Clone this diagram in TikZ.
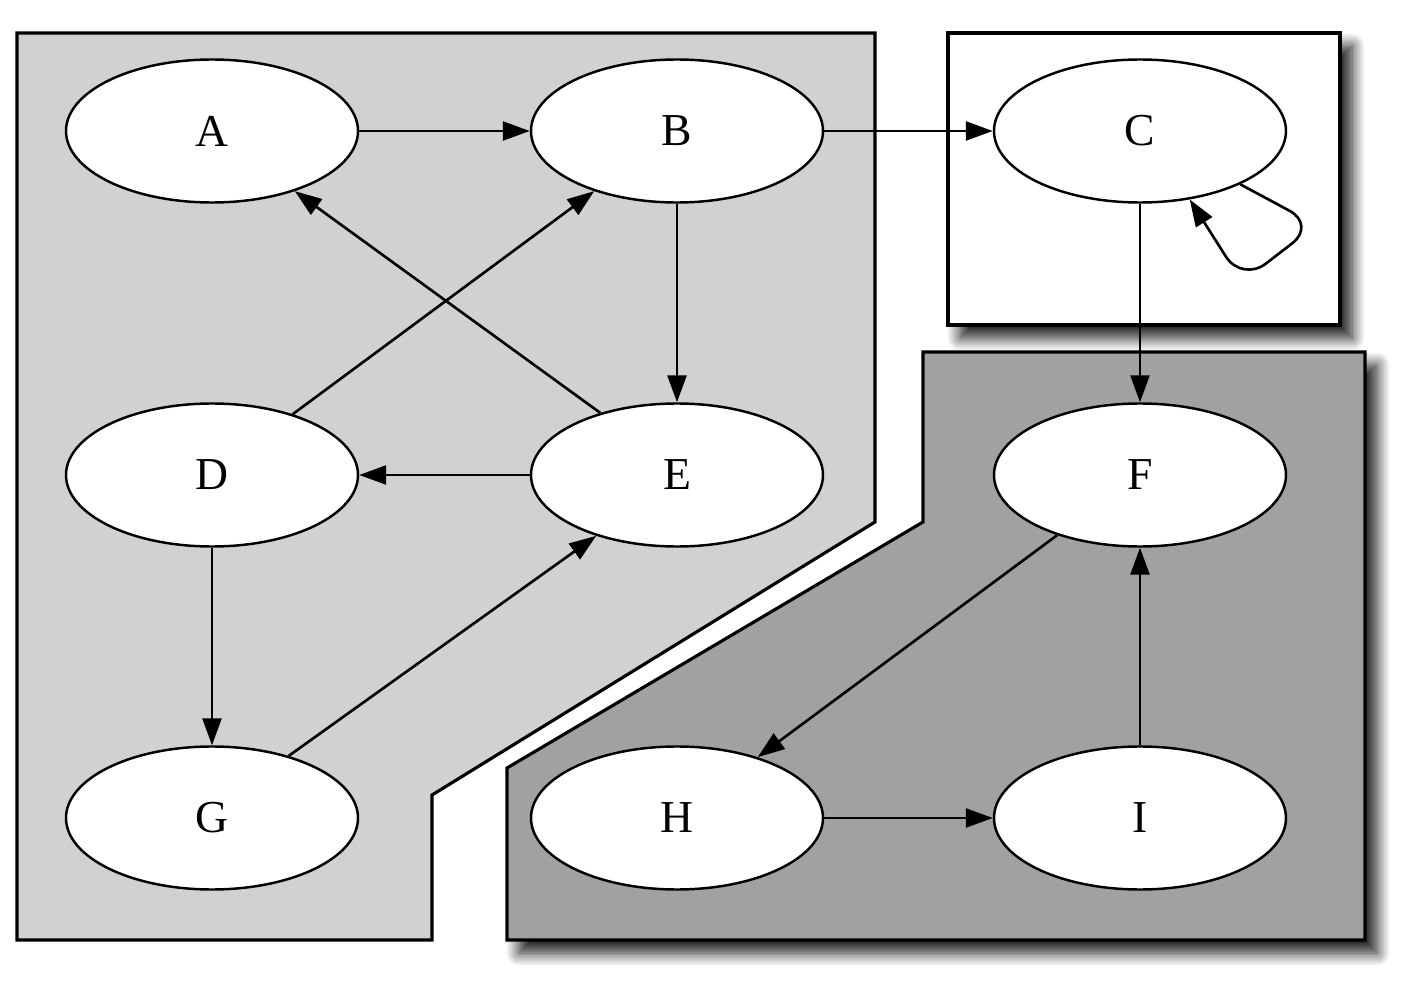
\documentclass[tikz,border=0pt]{standalone}
\usepackage{fontspec}
\setmainfont{Liberation Serif}
\usepackage{tikz}
\usetikzlibrary{shapes.geometric,arrows.meta,shadows.blur}

\tikzset{
  state/.style={ellipse,draw,line width=0.7pt,fill=white,minimum width=2.92cm,minimum height=1.43cm,inner sep=0pt,font=\fontsize{13}{15}\selectfont},
  trans/.style={line width=0.75pt,-{Triangle[length=0.27cm,width=0.19cm,fill=black]}},
  region/.style={draw,line width=0.9pt},
  boxshadow/.style={blur shadow={shadow xshift=0.12cm,shadow yshift=-0.13cm,shadow blur radius=0.13cm,shadow blur steps=12,shadow opacity=90}}
}

\begin{document}
\begin{tikzpicture}
\useasboundingbox (0,0) rectangle (14.13,-9.93);
% clusters
\draw[region,fill=black!18] (0.17,-0.33) -- (8.75,-0.33) -- (8.75,-5.22) -- (4.32,-7.95) -- (4.32,-9.40) -- (0.17,-9.40) -- cycle;
\draw[region,fill=white,boxshadow] (9.48,-0.33) rectangle (13.40,-3.25);
\draw[region,fill=black!37,boxshadow] (9.23,-3.52) -- (13.65,-3.52) -- (13.65,-9.40) -- (5.07,-9.40) -- (5.07,-7.68) -- (9.23,-5.22) -- cycle;
% states
\node[state] (A) at (2.12,-1.31) {A};
\node[state] (B) at (6.77,-1.31) {B};
\node[state] (C) at (11.40,-1.31) {C};
\node[state] (D) at (2.12,-4.75) {D};
\node[state] (E) at (6.77,-4.75) {E};
\node[state] (F) at (11.40,-4.75) {F};
\node[state] (G) at (2.12,-8.18) {G};
\node[state] (H) at (6.77,-8.18) {H};
\node[state] (I) at (11.40,-8.18) {I};
% transitions
\draw[trans] (A) -- (B);
\draw[trans] (B) -- (C);
\draw[trans] (B) -- (E);
\draw[trans] (E) -- (D);
\draw[trans] (E.141) -- (A.-36);
\draw[trans] (D.37) -- (B.-144);
\draw[trans] (D) -- (G);
\draw[trans] (G.39) -- (E.-143);
\draw[trans] (C) -- (F);
\draw[trans] (F.-144) -- (H.37);
\draw[trans] (H) -- (I);
\draw[trans] (I) -- (F);
\draw[trans,rounded corners=0.3cm] (C.-28) -- (13.16,-2.25) -- (12.42,-2.82) -- (C.-54);
\end{tikzpicture}
\end{document}
